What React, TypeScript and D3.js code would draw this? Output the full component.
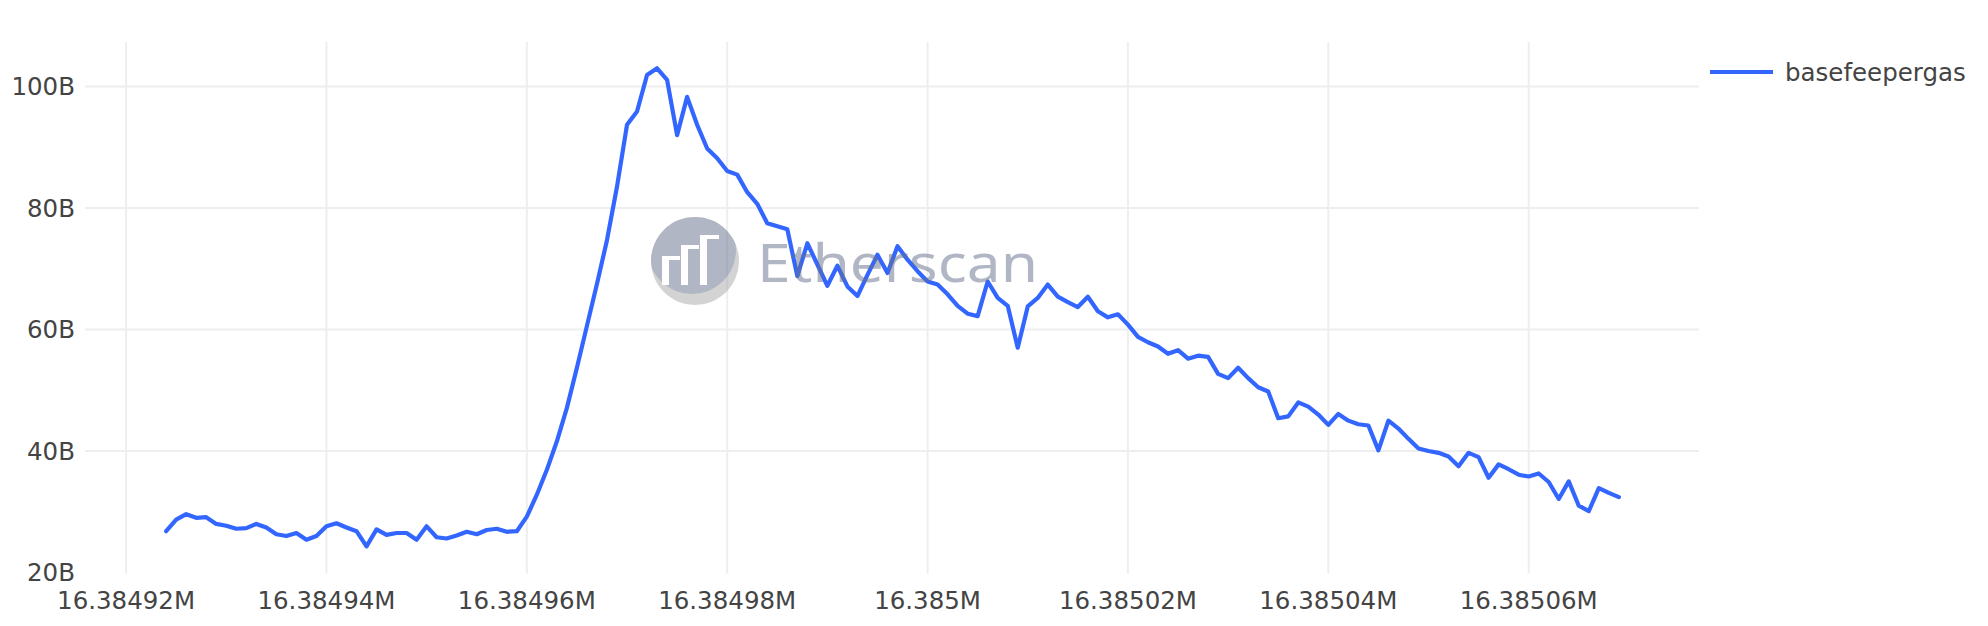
import * as d3 from 'd3';

// block numbers run one by one from the first block
const firstBlock = 16384924;

// base fee per gas, in billions
const baseFee = [
  26.8, 28.7, 29.6, 29.0, 29.1, 28.0, 27.7, 27.2, 27.3, 28.0,
  27.4, 26.3, 26.0, 26.5, 25.4, 26.0, 27.6, 28.1, 27.4, 26.8,
  24.3, 27.1, 26.2, 26.5, 26.5, 25.4, 27.6, 25.8, 25.6, 26.1,
  26.7, 26.3, 27.0, 27.2, 26.7, 26.8, 29.2, 32.8, 36.9, 41.6,
  47.1, 53.7, 60.6, 67.5, 74.7, 83.5, 93.7, 95.9, 101.9, 103.0,
  101.1, 92.0, 98.3, 93.7, 89.8, 88.2, 86.1, 85.5, 82.6, 80.7,
  77.5, 77.0, 76.5, 68.8, 74.2, 70.7, 67.2, 70.5, 67.1, 65.5,
  69.0, 72.3, 69.3, 73.7, 71.5, 69.6, 67.9, 67.4, 65.8, 63.9,
  62.6, 62.2, 67.9, 65.2, 63.9, 57.0, 63.8, 65.2, 67.4, 65.4,
  64.5, 63.7, 65.4, 63.0, 62.0, 62.5, 60.8, 58.8, 57.9, 57.2,
  56.0, 56.6, 55.2, 55.7, 55.5, 52.7, 52.0, 53.7, 52.0, 50.5,
  49.8, 45.4, 45.7, 48.0, 47.3, 46.0, 44.3, 46.1, 45.0, 44.4,
  44.2, 40.1, 45.0, 43.7, 42.0, 40.4, 40.0, 39.7, 39.1, 37.5,
  39.7, 39.0, 35.6, 37.8, 37.0, 36.1, 35.8, 36.3, 34.9, 32.1,
  35.0, 31.0, 30.1, 33.9, 33.1, 32.4,
];

const xTicks = [16384920, 16384940, 16384960, 16384980, 16385000, 16385020, 16385040, 16385060];
const xTickLabels = ['16.38492M', '16.38494M', '16.38496M', '16.38498M', '16.385M', '16.38502M', '16.38504M', '16.38506M'];
const yTicks = [20, 40, 60, 80, 100];
const yTickLabels = ['20B', '40B', '60B', '80B', '100B'];
const seriesName = 'basefeepergas';

const W = 1988;
const H = 626;
const plot = { left: 85, right: 1699, top: 42, bottom: 572.5 };
const font = '"DejaVu Sans", Verdana, sans-serif';
const lineColor = '#3366ff';

export default function App() {
  const x = d3.scaleLinear().domain([16384915.9, 16385077.0]).range([plot.left, plot.right]);
  const y = d3.scaleLinear().domain([20, 107.33]).range([plot.bottom, plot.top]);

  const points = baseFee.map((v, i) => ({ block: firstBlock + i, value: v }));
  const line = d3.line<{ block: number; value: number }>()
    .x(d => x(d.block))
    .y(d => y(d.value));

  return (
    <svg width={W} height={H} style={{ position: 'absolute', left: 0, top: 0, background: '#fff' }}
      fontFamily={font}>
      <rect width={W} height={H} fill="#fff" />

      {/* grid */}
      {xTicks.map(t => (
        <line key={'gx' + t} x1={x(t)} x2={x(t)} y1={plot.top} y2={plot.bottom + 1}
          stroke="#eee" strokeWidth={2} />
      ))}
      {yTicks.filter(t => t > 20).map(t => (
        <line key={'gy' + t} x1={plot.left} x2={plot.right} y1={y(t)} y2={y(t)}
          stroke="#eee" strokeWidth={2} />
      ))}

      {/* series */}
      <path d={line(points) ?? ''} fill="none" stroke={lineColor} strokeWidth={4.2}
        strokeLinejoin="round" strokeLinecap="round" />

      {/* watermark, drawn above with transparency */}
      <g opacity={0.5}>
        <clipPath id="logoClip">
          <circle cx={695} cy={261} r={44} />
        </clipPath>
        <circle cx={695} cy={261} r={44} fill="#a8a8a8" />
        <g clipPath="url(#logoClip)">
          <circle cx={692} cy={250} r={44} fill="#66708c" />
          <rect x={662} y={259} width={7} height={26} fill="#fff" />
          <rect x={681} y={248} width={7} height={37} fill="#fff" />
          <rect x={700} y={238} width={7} height={47} fill="#fff" />
          <rect x={662} y={256} width={18} height={4} fill="#fff" />
          <rect x={681} y={245} width={18} height={4} fill="#fff" />
          <rect x={700} y={235} width={19} height={4} fill="#fff" />
        </g>
        <text x={757} y={282} fontSize={52} fill="#66708c" textLength={281}
          lengthAdjust="spacingAndGlyphs" fontFamily='"Noto Sans", "Open Sans", sans-serif'>Etherscan</text>
      </g>

      {/* axes labels */}
      {yTicks.map((t, i) => (
        <text key={'yl' + t} x={75} y={y(t)} dy="0.36em" textAnchor="end" fontSize={24.5} fill="#444">
          {yTickLabels[i]}
        </text>
      ))}
      {xTicks.map((t, i) => (
        <text key={'xl' + t} x={x(t)} y={609} textAnchor="middle" fontSize={24.5} fill="#444">
          {xTickLabels[i]}
        </text>
      ))}

      {/* legend */}
      <line x1={1710} x2={1773} y1={72} y2={72} stroke={lineColor} strokeWidth={4} />
      <text x={1785} y={81} fontSize={24.5} fill="#444">{seriesName}</text>
    </svg>
  );
}
